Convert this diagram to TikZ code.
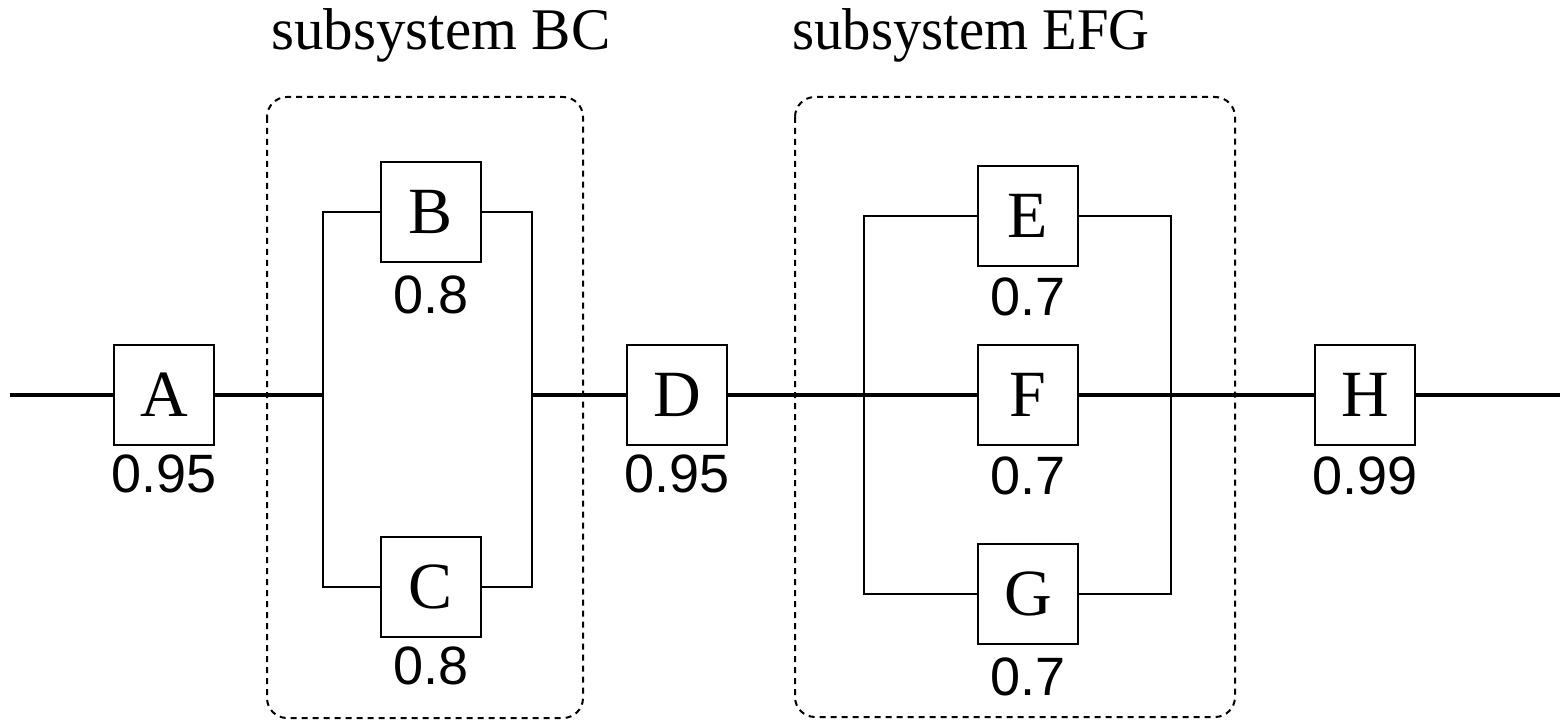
\documentclass[tikz,border=0pt]{standalone}
\usepackage{fontspec}
\setmainfont{Liberation Serif}
\newfontfamily\numfont{Liberation Sans}
\usetikzlibrary{positioning}
\tikzset{
  block/.style={draw, line width=1pt, minimum width=50pt, minimum height=50pt,
                inner sep=0pt, font=\fontsize{33}{33}\selectfont},
  rel/.style={inner sep=0pt, font=\numfont\fontsize{27}{27}\selectfont},
  title/.style={inner sep=0pt, anchor=base, font=\fontsize{29.5}{30}\selectfont},
  mainline/.style={line width=2pt},
  branch/.style={line width=1pt},
  group/.style={draw, line width=1pt, dash pattern=on 3pt off 2.5pt, rounded corners=10pt}
}
\begin{document}
\begin{tikzpicture}[x=0.5pt, y=-0.5pt]
  \useasboundingbox (0,0) rectangle (1561,721);

  % subsystem frames
  \draw[group] (267,97) rectangle (583,718);
  \draw[group] (795,97) rectangle (1235,717);
  \node[title] (tBC) at (441,50) {subsystem BC};
  \node[title, xscale=0.96] (tEFG) at (971,50) {subsystem EFG};

  % components
  \node[block] (A) at (164,395) {A};
  \node[block] (B) at (431,212) {B};
  \node[block] (C) at (431,587) {C};
  \node[block] (D) at (677,395) {D};
  \node[block] (E) at (1028,216) {E};
  \node[block] (F) at (1028,395) {F};
  \node[block] (G) at (1028,594) {G};
  \node[block] (H) at (1365,395) {H};

  % reliabilities
  \node[rel, below=4pt of A] (rA) {0.95};
  \node[rel, below=6pt of B] (rB) {0.8};
  \node[rel, below=4pt of C] (rC) {0.8};
  \node[rel, below=4pt of D] (rD) {0.95};
  \node[rel, below=5pt of E] (rE) {0.7};
  \node[rel, below=5pt of F] (rF) {0.7};
  \node[rel, below=6pt of G] (rG) {0.7};
  \node[rel, below=5pt of H] (rH) {0.99};

  % terminals and bus junctions
  \coordinate (in) at (10,395);
  \coordinate (out) at (1560,395);
  \coordinate (bcL) at (323,395);
  \coordinate (bcR) at (532,395);
  \coordinate (efgL) at (864,395);
  \coordinate (efgR) at (1171,395);

  % series path
  \draw[mainline] (in) -- (A.west);
  \draw[mainline] (A.east) -- (bcL);
  \draw[mainline] (bcR) -- (D.west);
  \draw[mainline] (D.east) -- (F.west);
  \draw[mainline] (F.east) -- (H.west);
  \draw[mainline] (H.east) -- (out);

  % parallel branches
  \draw[branch] (B.west) -| (bcL) |- (C.west);
  \draw[branch] (B.east) -| (bcR) |- (C.east);
  \draw[branch] (E.west) -| (efgL) |- (G.west);
  \draw[branch] (E.east) -| (efgR) |- (G.east);
\end{tikzpicture}
\end{document}
